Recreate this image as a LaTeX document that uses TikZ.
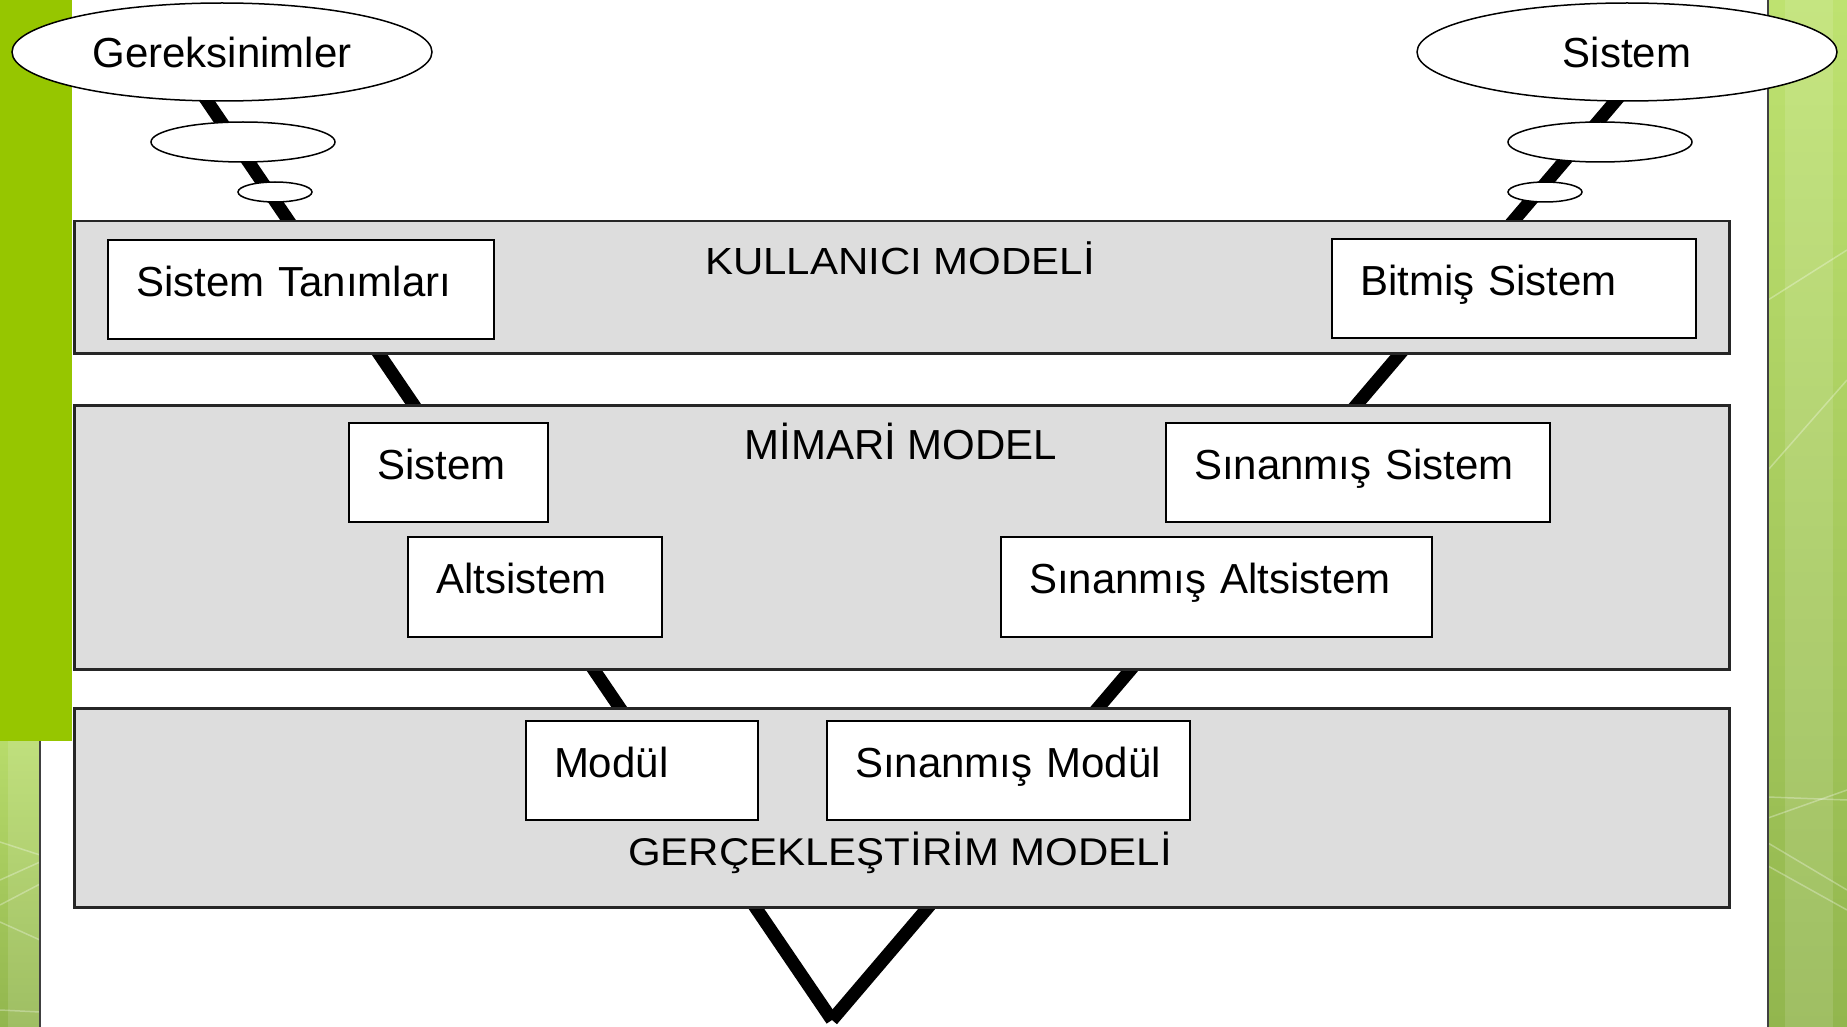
\documentclass[tikz,border=0pt]{standalone}
\usepackage{fontspec}
\usepackage{graphicx}
\setmainfont{Liberation Sans}
\usetikzlibrary{shapes.geometric}
\pgfdeclarelayer{bg}
\pgfdeclarelayer{lines}
\pgfsetlayers{bg,lines,main}
\definecolor{limeA}{RGB}{150,198,0}
\definecolor{stripTop}{RGB}{190,226,112}
\definecolor{stripBot}{RGB}{146,182,78}
\definecolor{panelgray}{RGB}{221,221,221}
\begin{document}
\begin{tikzpicture}[x=1pt,y=-1pt,
  font=\fontsize{42}{50}\selectfont,
  panel/.style={draw=black!85, line width=2.5pt, fill=panelgray, rectangle, anchor=north west, inner sep=0pt},
  inbox/.style={draw=black, line width=2pt, fill=white, rectangle, anchor=north west,
    inner xsep=28pt, inner ysep=0pt, minimum height=99pt, text height=30pt, text depth=17pt,
    align=left, text width=#1},
  bubble/.style={draw=black, line width=1.5pt, fill=white, ellipse, inner sep=0pt},
  vline/.style={line width=13pt, black},
  ptitle/.style={anchor=base, inner sep=0pt},
  texture/.style={white, opacity=0.3, line width=1.5pt}
]
\useasboundingbox (0,0) rectangle (1847,1027);

% ---------- background ----------
\begin{pgfonlayer}{bg}
  \fill[white] (0,0) rectangle (1847,1027);
  % right strip
  \shade[top color=stripTop, bottom color=stripBot] (1768,0) rectangle (1847,1027);
  \fill[white, opacity=0.12] (1785,0) rectangle (1833,1027);
  \draw[texture] (1768,300) -- (1847,250);
  \draw[texture] (1768,470) -- (1847,380);
  \draw[texture] (1768,797) -- (1847,800);
  \draw[texture] (1768,818) -- (1847,790);
  \draw[texture] (1768,843) -- (1847,890);
  \draw[texture] (1768,866) -- (1847,910);
  \draw[black!75, line width=1.5pt] (1768,0) -- (1768,1027);
  % left lower strip
  \shade[top color=stripTop!85!stripBot, bottom color=stripBot] (0,741) rectangle (40,1027);
  \fill[white, opacity=0.12] (8,741) rectangle (40,1027);
  \draw[texture] (0,842) -- (40,855);
  \draw[texture] (0,880) -- (40,862);
  \draw[texture] (0,905) -- (40,884);
  \draw[texture] (0,922) -- (40,940);
  \draw[texture] (0,1010) -- (40,1012);
  \draw[black!75, line width=1.5pt] (40,741) -- (40,1027);
  % left bright bar
  \fill[limeA] (0,0) rectangle (72,741);
\end{pgfonlayer}

% ---------- panels ----------
\node[panel, minimum width=1655pt, minimum height=132pt] (p1) at (73,220) {};
\node[panel, minimum width=1655pt, minimum height=264pt] (p2) at (73,404) {};
\node[panel, minimum width=1655pt, minimum height=199pt] (p3) at (73,707) {};

\node[ptitle] (t1) at (900,274) {\scalebox{1}[0.9]{KULLANICI MODELİ}};
\node[ptitle] (t2) at (901,459) {MİMARİ MODEL};
\node[ptitle] (t3) at (900,865) {\scalebox{1}[0.92]{GERÇEKLEŞTİRİM MODELİ}};

% ---------- inner boxes ----------
\node[inbox=330pt] (st)  at (107,239)  {Sistem Tanımları};
\node[inbox=308pt] (bs)  at (1331,238) {Bitmiş Sistem};
\node[inbox=143pt] (sis) at (348,422)  {Sistem};
\node[inbox=328pt] (ss)  at (1165,422) {Sınanmış Sistem};
\node[inbox=198pt, minimum height=100pt] (alt) at (407,536) {Altsistem};
\node[inbox=375pt, minimum height=100pt] (sa)  at (1000,536) {Sınanmış Altsistem};
\node[inbox=176pt] (mod) at (525,720)  {Modül};
\node[inbox=307pt] (sm)  at (826,720)  {Sınanmış Modül};

% ---------- bubbles ----------
\node[bubble, minimum width=420pt, minimum height=98pt] (gerek) at (222,52) {Gereksinimler};
\node[bubble, minimum width=184pt, minimum height=40pt] (l2) at (243,142) {};
\node[bubble, minimum width=74pt, minimum height=20pt] (l3) at (275,192) {};
\node[bubble, minimum width=420pt, minimum height=98pt] (sistem) at (1627,52) {Sistem};
\node[bubble, minimum width=184pt, minimum height=40pt] (r2) at (1600,142) {};
\node[bubble, minimum width=74pt, minimum height=20pt] (r3) at (1545,192) {};

% ---------- V connector ----------
\coordinate (ltop) at (186,70);
\coordinate (rtop) at (1642,70);
\coordinate (vbot) at (832,1020);
\begin{pgfonlayer}{lines}
  \draw[vline] (ltop) -- (vbot);
  \draw[vline] (rtop) -- (vbot);
\end{pgfonlayer}
\end{tikzpicture}
\end{document}
